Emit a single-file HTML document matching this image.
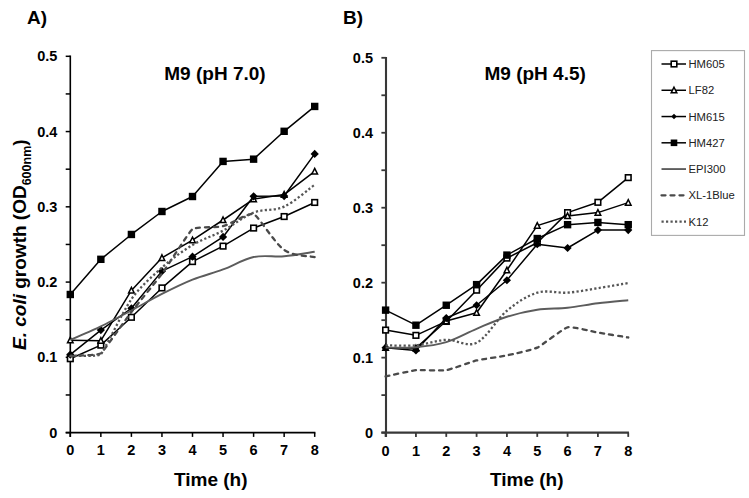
<!DOCTYPE html>
<html><head><meta charset="utf-8"><title>E. coli growth</title>
<style>html,body{margin:0;padding:0;background:#fff;}body{width:749px;height:498px;overflow:hidden;}svg{display:block;}</style>
</head><body>
<svg width="749" height="498" viewBox="0 0 749 498">
<style>
text{font-family:"Liberation Sans",sans-serif;}
.tk{font-size:14.5px;font-weight:bold;fill:#000;}
.ttl{font-size:19px;font-weight:bold;fill:#000;}
.lg{font-size:11.25px;fill:#222;}
</style>
<rect width="749" height="498" fill="#fff"/>
<text x="27" y="24" class="ttl">A)</text>
<text x="343" y="24" class="ttl">B)</text>
<text x="164.3" y="80" class="ttl">M9 (pH 7.0)</text>
<text x="484.5" y="80" class="ttl">M9 (pH 4.5)</text>
<text x="174" y="485.5" class="ttl">Time (h)</text>
<text x="490" y="485.5" class="ttl">Time (h)</text>
<text transform="translate(25.5,350) rotate(-90)" class="ttl"><tspan font-style="italic">E. coli</tspan> growth (OD<tspan font-size="12.5" dy="5.5">600nm</tspan><tspan dy="-5.5">)</tspan></text>
<line x1="70.3" y1="55.60" x2="70.3" y2="436.90" stroke="#000" stroke-width="1.6"/>
<line x1="65.7" y1="432.6" x2="315.40" y2="432.6" stroke="#000" stroke-width="1.6"/>
<line x1="65.7" y1="432.60" x2="70.3" y2="432.60" stroke="#000" stroke-width="1.5"/>
<line x1="65.7" y1="394.97" x2="70.3" y2="394.97" stroke="#000" stroke-width="1.5"/>
<line x1="65.7" y1="357.34" x2="70.3" y2="357.34" stroke="#000" stroke-width="1.5"/>
<line x1="65.7" y1="319.71" x2="70.3" y2="319.71" stroke="#000" stroke-width="1.5"/>
<line x1="65.7" y1="282.08" x2="70.3" y2="282.08" stroke="#000" stroke-width="1.5"/>
<line x1="65.7" y1="244.45" x2="70.3" y2="244.45" stroke="#000" stroke-width="1.5"/>
<line x1="65.7" y1="206.82" x2="70.3" y2="206.82" stroke="#000" stroke-width="1.5"/>
<line x1="65.7" y1="169.19" x2="70.3" y2="169.19" stroke="#000" stroke-width="1.5"/>
<line x1="65.7" y1="131.56" x2="70.3" y2="131.56" stroke="#000" stroke-width="1.5"/>
<line x1="65.7" y1="93.93" x2="70.3" y2="93.93" stroke="#000" stroke-width="1.5"/>
<line x1="65.7" y1="56.30" x2="70.3" y2="56.30" stroke="#000" stroke-width="1.5"/>
<line x1="70.30" y1="432.6" x2="70.30" y2="436.90" stroke="#000" stroke-width="1.5"/>
<line x1="100.85" y1="432.6" x2="100.85" y2="436.90" stroke="#000" stroke-width="1.5"/>
<line x1="131.40" y1="432.6" x2="131.40" y2="436.90" stroke="#000" stroke-width="1.5"/>
<line x1="161.95" y1="432.6" x2="161.95" y2="436.90" stroke="#000" stroke-width="1.5"/>
<line x1="192.50" y1="432.6" x2="192.50" y2="436.90" stroke="#000" stroke-width="1.5"/>
<line x1="223.05" y1="432.6" x2="223.05" y2="436.90" stroke="#000" stroke-width="1.5"/>
<line x1="253.60" y1="432.6" x2="253.60" y2="436.90" stroke="#000" stroke-width="1.5"/>
<line x1="284.15" y1="432.6" x2="284.15" y2="436.90" stroke="#000" stroke-width="1.5"/>
<line x1="314.70" y1="432.6" x2="314.70" y2="436.90" stroke="#000" stroke-width="1.5"/>
<text x="57.3" y="437.60" text-anchor="end" class="tk">0</text>
<text x="57.3" y="362.34" text-anchor="end" class="tk">0.1</text>
<text x="57.3" y="287.08" text-anchor="end" class="tk">0.2</text>
<text x="57.3" y="211.82" text-anchor="end" class="tk">0.3</text>
<text x="57.3" y="136.56" text-anchor="end" class="tk">0.4</text>
<text x="57.3" y="61.30" text-anchor="end" class="tk">0.5</text>
<text x="70.30" y="455" text-anchor="middle" class="tk">0</text>
<text x="100.85" y="455" text-anchor="middle" class="tk">1</text>
<text x="131.40" y="455" text-anchor="middle" class="tk">2</text>
<text x="161.95" y="455" text-anchor="middle" class="tk">3</text>
<text x="192.50" y="455" text-anchor="middle" class="tk">4</text>
<text x="223.05" y="455" text-anchor="middle" class="tk">5</text>
<text x="253.60" y="455" text-anchor="middle" class="tk">6</text>
<text x="284.15" y="455" text-anchor="middle" class="tk">7</text>
<text x="314.70" y="455" text-anchor="middle" class="tk">8</text>
<line x1="386" y1="57.10" x2="386" y2="436.90" stroke="#383838" stroke-width="2.1"/>
<line x1="381.4" y1="432.6" x2="628.94" y2="432.6" stroke="#383838" stroke-width="2.1"/>
<line x1="381.4" y1="432.60" x2="386" y2="432.60" stroke="#383838" stroke-width="1.8"/>
<line x1="381.4" y1="395.12" x2="386" y2="395.12" stroke="#383838" stroke-width="1.8"/>
<line x1="381.4" y1="357.64" x2="386" y2="357.64" stroke="#383838" stroke-width="1.8"/>
<line x1="381.4" y1="320.16" x2="386" y2="320.16" stroke="#383838" stroke-width="1.8"/>
<line x1="381.4" y1="282.68" x2="386" y2="282.68" stroke="#383838" stroke-width="1.8"/>
<line x1="381.4" y1="245.20" x2="386" y2="245.20" stroke="#383838" stroke-width="1.8"/>
<line x1="381.4" y1="207.72" x2="386" y2="207.72" stroke="#383838" stroke-width="1.8"/>
<line x1="381.4" y1="170.24" x2="386" y2="170.24" stroke="#383838" stroke-width="1.8"/>
<line x1="381.4" y1="132.76" x2="386" y2="132.76" stroke="#383838" stroke-width="1.8"/>
<line x1="381.4" y1="95.28" x2="386" y2="95.28" stroke="#383838" stroke-width="1.8"/>
<line x1="381.4" y1="57.80" x2="386" y2="57.80" stroke="#383838" stroke-width="1.8"/>
<line x1="385.60" y1="432.6" x2="385.60" y2="436.90" stroke="#383838" stroke-width="1.8"/>
<line x1="415.93" y1="432.6" x2="415.93" y2="436.90" stroke="#383838" stroke-width="1.8"/>
<line x1="446.26" y1="432.6" x2="446.26" y2="436.90" stroke="#383838" stroke-width="1.8"/>
<line x1="476.59" y1="432.6" x2="476.59" y2="436.90" stroke="#383838" stroke-width="1.8"/>
<line x1="506.92" y1="432.6" x2="506.92" y2="436.90" stroke="#383838" stroke-width="1.8"/>
<line x1="537.25" y1="432.6" x2="537.25" y2="436.90" stroke="#383838" stroke-width="1.8"/>
<line x1="567.58" y1="432.6" x2="567.58" y2="436.90" stroke="#383838" stroke-width="1.8"/>
<line x1="597.91" y1="432.6" x2="597.91" y2="436.90" stroke="#383838" stroke-width="1.8"/>
<line x1="628.24" y1="432.6" x2="628.24" y2="436.90" stroke="#383838" stroke-width="1.8"/>
<text x="373" y="437.60" text-anchor="end" class="tk">0</text>
<text x="373" y="362.64" text-anchor="end" class="tk">0.1</text>
<text x="373" y="287.68" text-anchor="end" class="tk">0.2</text>
<text x="373" y="212.72" text-anchor="end" class="tk">0.3</text>
<text x="373" y="137.76" text-anchor="end" class="tk">0.4</text>
<text x="373" y="62.80" text-anchor="end" class="tk">0.5</text>
<text x="385.60" y="455.5" text-anchor="middle" class="tk">0</text>
<text x="415.93" y="455.5" text-anchor="middle" class="tk">1</text>
<text x="446.26" y="455.5" text-anchor="middle" class="tk">2</text>
<text x="476.59" y="455.5" text-anchor="middle" class="tk">3</text>
<text x="506.92" y="455.5" text-anchor="middle" class="tk">4</text>
<text x="537.25" y="455.5" text-anchor="middle" class="tk">5</text>
<text x="567.58" y="455.5" text-anchor="middle" class="tk">6</text>
<text x="597.91" y="455.5" text-anchor="middle" class="tk">7</text>
<text x="628.24" y="455.5" text-anchor="middle" class="tk">8</text>
<path d="M70.30,358.71 L100.85,345.15 L131.40,317.29 L161.95,287.92 L192.50,261.57 L223.05,246.13 L253.60,228.06 L284.15,216.54 L314.70,202.46" fill="none" stroke="#000" stroke-width="1.5" stroke-linejoin="round"/>
<rect x="67.50" y="355.91" width="5.6" height="5.6" fill="#fff" stroke="#000" stroke-width="1.6"/>
<rect x="98.05" y="342.35" width="5.6" height="5.6" fill="#fff" stroke="#000" stroke-width="1.6"/>
<rect x="128.60" y="314.49" width="5.6" height="5.6" fill="#fff" stroke="#000" stroke-width="1.6"/>
<rect x="159.15" y="285.12" width="5.6" height="5.6" fill="#fff" stroke="#000" stroke-width="1.6"/>
<rect x="189.70" y="258.77" width="5.6" height="5.6" fill="#fff" stroke="#000" stroke-width="1.6"/>
<rect x="220.25" y="243.33" width="5.6" height="5.6" fill="#fff" stroke="#000" stroke-width="1.6"/>
<rect x="250.80" y="225.26" width="5.6" height="5.6" fill="#fff" stroke="#000" stroke-width="1.6"/>
<rect x="281.35" y="213.74" width="5.6" height="5.6" fill="#fff" stroke="#000" stroke-width="1.6"/>
<rect x="311.90" y="199.66" width="5.6" height="5.6" fill="#fff" stroke="#000" stroke-width="1.6"/>
<path d="M70.30,340.26 L100.85,340.63 L131.40,290.41 L161.95,257.80 L192.50,240.11 L223.05,220.00 L253.60,199.07 L284.15,194.55 L314.70,171.43" fill="none" stroke="#000" stroke-width="1.5" stroke-linejoin="round"/>
<path d="M70.30,337.26 L73.10,342.86 L67.50,342.86 Z" fill="#fff" stroke="#000" stroke-width="1.5" stroke-linejoin="miter"/>
<path d="M100.85,337.63 L103.65,343.23 L98.05,343.23 Z" fill="#fff" stroke="#000" stroke-width="1.5" stroke-linejoin="miter"/>
<path d="M131.40,287.41 L134.20,293.01 L128.60,293.01 Z" fill="#fff" stroke="#000" stroke-width="1.5" stroke-linejoin="miter"/>
<path d="M161.95,254.80 L164.75,260.40 L159.15,260.40 Z" fill="#fff" stroke="#000" stroke-width="1.5" stroke-linejoin="miter"/>
<path d="M192.50,237.11 L195.30,242.71 L189.70,242.71 Z" fill="#fff" stroke="#000" stroke-width="1.5" stroke-linejoin="miter"/>
<path d="M223.05,217.00 L225.85,222.60 L220.25,222.60 Z" fill="#fff" stroke="#000" stroke-width="1.5" stroke-linejoin="miter"/>
<path d="M253.60,196.07 L256.40,201.67 L250.80,201.67 Z" fill="#fff" stroke="#000" stroke-width="1.5" stroke-linejoin="miter"/>
<path d="M284.15,191.55 L286.95,197.15 L281.35,197.15 Z" fill="#fff" stroke="#000" stroke-width="1.5" stroke-linejoin="miter"/>
<path d="M314.70,168.43 L317.50,174.03 L311.90,174.03 Z" fill="#fff" stroke="#000" stroke-width="1.5" stroke-linejoin="miter"/>
<path d="M70.30,354.56 L100.85,330.09 L131.40,308.25 L161.95,271.13 L192.50,256.67 L223.05,236.95 L253.60,196.28 L284.15,196.06 L314.70,153.89" fill="none" stroke="#000" stroke-width="1.5" stroke-linejoin="round"/>
<path d="M70.30,350.46 L74.40,354.56 L70.30,358.66 L66.20,354.56 Z" fill="#000"/>
<path d="M100.85,325.99 L104.95,330.09 L100.85,334.19 L96.75,330.09 Z" fill="#000"/>
<path d="M131.40,304.15 L135.50,308.25 L131.40,312.36 L127.30,308.25 Z" fill="#000"/>
<path d="M161.95,267.03 L166.05,271.13 L161.95,275.23 L157.85,271.13 Z" fill="#000"/>
<path d="M192.50,252.57 L196.60,256.67 L192.50,260.77 L188.40,256.67 Z" fill="#000"/>
<path d="M223.05,232.85 L227.15,236.95 L223.05,241.05 L218.95,236.95 Z" fill="#000"/>
<path d="M253.60,192.18 L257.70,196.28 L253.60,200.38 L249.50,196.28 Z" fill="#000"/>
<path d="M284.15,191.96 L288.25,196.06 L284.15,200.16 L280.05,196.06 Z" fill="#000"/>
<path d="M314.70,149.79 L318.80,153.89 L314.70,157.99 L310.60,153.89 Z" fill="#000"/>
<path d="M70.30,294.48 L100.85,259.31 L131.40,234.46 L161.95,211.49 L192.50,196.51 L223.05,161.42 L253.60,159.16 L284.15,131.30 L314.70,106.45" fill="none" stroke="#000" stroke-width="1.5" stroke-linejoin="round"/>
<rect x="66.60" y="290.78" width="7.4" height="7.4" fill="#000"/>
<rect x="97.15" y="255.61" width="7.4" height="7.4" fill="#000"/>
<rect x="127.70" y="230.76" width="7.4" height="7.4" fill="#000"/>
<rect x="158.25" y="207.79" width="7.4" height="7.4" fill="#000"/>
<rect x="188.80" y="192.81" width="7.4" height="7.4" fill="#000"/>
<rect x="219.35" y="157.72" width="7.4" height="7.4" fill="#000"/>
<rect x="249.90" y="155.46" width="7.4" height="7.4" fill="#000"/>
<rect x="280.45" y="127.60" width="7.4" height="7.4" fill="#000"/>
<rect x="311.00" y="102.75" width="7.4" height="7.4" fill="#000"/>
<path d="M70.30,339.88 C75.39,337.62 93.52,329.85 100.85,326.33 C108.18,322.80 121.22,315.91 131.40,310.51 C141.58,305.12 151.77,299.09 161.95,293.95 C172.13,288.80 182.32,283.72 192.50,279.64 C202.68,275.56 212.87,273.24 223.05,269.48 C233.23,265.71 243.42,259.25 253.60,257.05 C263.78,254.85 273.97,257.18 284.15,256.30 C294.33,255.42 309.61,252.53 314.70,251.78" fill="none" stroke="#5c5c5c" stroke-width="1.9"/>
<path d="M70.30,356.07 C75.39,355.63 98.41,355.20 100.85,353.44 C103.29,351.67 124.07,321.60 131.40,312.02 C138.73,302.44 154.62,283.56 161.95,273.62 C169.28,263.68 188.83,232.04 192.50,229.19 C196.17,226.34 215.72,227.99 223.05,226.18 C230.38,224.37 248.71,212.23 253.60,214.13 C258.49,216.03 274.37,243.03 284.15,249.90 C293.93,256.76 309.61,255.86 314.70,257.05" fill="none" stroke="#4a4a4a" stroke-width="2.3" stroke-dasharray="4,5" stroke-linecap="round"/>
<path d="M70.30,355.69 C75.39,355.44 97.79,357.01 100.85,354.19 C103.91,351.36 122.85,311.34 131.40,299.22 C139.95,287.10 151.77,276.63 161.95,267.59 C172.13,258.56 182.32,251.15 192.50,245.00 C202.68,238.85 212.87,236.09 223.05,230.70 C233.23,225.30 243.42,216.64 253.60,212.62 C263.78,208.61 273.97,211.24 284.15,206.60 C294.33,201.96 309.61,188.40 314.70,184.76" fill="none" stroke="#555" stroke-width="2.3" stroke-dasharray="2.2,2.3"/>
<path d="M385.60,330.09 L415.93,335.36 L446.26,321.43 L476.59,290.18 L506.92,258.11 L537.25,242.74 L567.58,212.62 L597.91,202.31 L628.24,177.61" fill="none" stroke="#000" stroke-width="1.5" stroke-linejoin="round"/>
<rect x="382.80" y="327.29" width="5.6" height="5.6" fill="#fff" stroke="#000" stroke-width="1.6"/>
<rect x="413.13" y="332.56" width="5.6" height="5.6" fill="#fff" stroke="#000" stroke-width="1.6"/>
<rect x="443.46" y="318.63" width="5.6" height="5.6" fill="#fff" stroke="#000" stroke-width="1.6"/>
<rect x="473.79" y="287.38" width="5.6" height="5.6" fill="#fff" stroke="#000" stroke-width="1.6"/>
<rect x="504.12" y="255.31" width="5.6" height="5.6" fill="#fff" stroke="#000" stroke-width="1.6"/>
<rect x="534.45" y="239.94" width="5.6" height="5.6" fill="#fff" stroke="#000" stroke-width="1.6"/>
<rect x="564.78" y="209.82" width="5.6" height="5.6" fill="#fff" stroke="#000" stroke-width="1.6"/>
<rect x="595.11" y="199.51" width="5.6" height="5.6" fill="#fff" stroke="#000" stroke-width="1.6"/>
<rect x="625.44" y="174.81" width="5.6" height="5.6" fill="#fff" stroke="#000" stroke-width="1.6"/>
<path d="M385.60,347.71 L415.93,348.16 L446.26,321.06 L476.59,312.77 L506.92,270.23 L537.25,225.65 L567.58,216.01 L597.91,212.62 L628.24,202.61" fill="none" stroke="#000" stroke-width="1.5" stroke-linejoin="round"/>
<path d="M385.60,344.71 L388.40,350.31 L382.80,350.31 Z" fill="#fff" stroke="#000" stroke-width="1.5" stroke-linejoin="miter"/>
<path d="M415.93,345.16 L418.73,350.76 L413.13,350.76 Z" fill="#fff" stroke="#000" stroke-width="1.5" stroke-linejoin="miter"/>
<path d="M446.26,318.06 L449.06,323.66 L443.46,323.66 Z" fill="#fff" stroke="#000" stroke-width="1.5" stroke-linejoin="miter"/>
<path d="M476.59,309.77 L479.39,315.37 L473.79,315.37 Z" fill="#fff" stroke="#000" stroke-width="1.5" stroke-linejoin="miter"/>
<path d="M506.92,267.23 L509.72,272.83 L504.12,272.83 Z" fill="#fff" stroke="#000" stroke-width="1.5" stroke-linejoin="miter"/>
<path d="M537.25,222.65 L540.05,228.25 L534.45,228.25 Z" fill="#fff" stroke="#000" stroke-width="1.5" stroke-linejoin="miter"/>
<path d="M567.58,213.01 L570.38,218.61 L564.78,218.61 Z" fill="#fff" stroke="#000" stroke-width="1.5" stroke-linejoin="miter"/>
<path d="M597.91,209.62 L600.71,215.22 L595.11,215.22 Z" fill="#fff" stroke="#000" stroke-width="1.5" stroke-linejoin="miter"/>
<path d="M628.24,199.61 L631.04,205.21 L625.44,205.21 Z" fill="#fff" stroke="#000" stroke-width="1.5" stroke-linejoin="miter"/>
<path d="M385.60,347.71 L415.93,350.42 L446.26,318.04 L476.59,305.24 L506.92,280.24 L537.25,244.25 L567.58,248.02 L597.91,230.09 L628.24,230.09" fill="none" stroke="#000" stroke-width="1.5" stroke-linejoin="round"/>
<path d="M385.60,343.61 L389.70,347.71 L385.60,351.81 L381.50,347.71 Z" fill="#000"/>
<path d="M415.93,346.32 L420.03,350.42 L415.93,354.52 L411.83,350.42 Z" fill="#000"/>
<path d="M446.26,313.94 L450.36,318.04 L446.26,322.14 L442.16,318.04 Z" fill="#000"/>
<path d="M476.59,301.14 L480.69,305.24 L476.59,309.34 L472.49,305.24 Z" fill="#000"/>
<path d="M506.92,276.14 L511.02,280.24 L506.92,284.34 L502.82,280.24 Z" fill="#000"/>
<path d="M537.25,240.15 L541.35,244.25 L537.25,248.35 L533.15,244.25 Z" fill="#000"/>
<path d="M567.58,243.92 L571.68,248.02 L567.58,252.12 L563.48,248.02 Z" fill="#000"/>
<path d="M597.91,225.99 L602.01,230.09 L597.91,234.19 L593.81,230.09 Z" fill="#000"/>
<path d="M628.24,225.99 L632.34,230.09 L628.24,234.19 L624.14,230.09 Z" fill="#000"/>
<path d="M385.60,310.14 L415.93,325.20 L446.26,305.24 L476.59,284.61 L506.92,255.09 L537.25,238.53 L567.58,224.67 L597.91,222.41 L628.24,224.67" fill="none" stroke="#000" stroke-width="1.5" stroke-linejoin="round"/>
<rect x="381.90" y="306.44" width="7.4" height="7.4" fill="#000"/>
<rect x="412.23" y="321.50" width="7.4" height="7.4" fill="#000"/>
<rect x="442.56" y="301.54" width="7.4" height="7.4" fill="#000"/>
<rect x="472.89" y="280.91" width="7.4" height="7.4" fill="#000"/>
<rect x="503.22" y="251.39" width="7.4" height="7.4" fill="#000"/>
<rect x="533.55" y="234.83" width="7.4" height="7.4" fill="#000"/>
<rect x="563.88" y="220.97" width="7.4" height="7.4" fill="#000"/>
<rect x="594.21" y="218.71" width="7.4" height="7.4" fill="#000"/>
<rect x="624.54" y="220.97" width="7.4" height="7.4" fill="#000"/>
<path d="M385.60,347.64 C390.66,347.56 405.82,348.10 415.93,347.19 C426.04,346.27 436.15,345.20 446.26,342.14 C456.37,339.08 466.48,333.04 476.59,328.81 C486.70,324.58 496.81,319.94 506.92,316.76 C517.03,313.59 527.14,311.27 537.25,309.76 C547.36,308.25 557.47,308.82 567.58,307.73 C577.69,306.64 587.80,304.46 597.91,303.21 C608.02,301.95 623.19,300.70 628.24,300.20" fill="none" stroke="#5c5c5c" stroke-width="1.9"/>
<path d="M385.60,376.48 C387.72,376.04 411.68,370.66 415.93,370.23 C420.18,369.79 442.01,370.91 446.26,370.23 C450.51,369.54 472.34,361.48 476.59,360.44 C480.84,359.40 502.67,356.29 506.92,355.39 C511.17,354.50 533.00,349.60 537.25,347.64 C541.50,345.67 563.33,328.36 567.58,327.31 C571.83,326.25 593.66,331.87 597.91,332.58 C602.16,333.29 626.12,337.13 628.24,337.47" fill="none" stroke="#4a4a4a" stroke-width="2.3" stroke-dasharray="4,5" stroke-linecap="round"/>
<path d="M385.60,345.30 C390.66,345.30 405.82,346.22 415.93,345.30 C426.04,344.39 436.15,340.23 446.26,339.81 C456.37,339.38 466.48,347.59 476.59,342.74 C486.70,337.90 496.81,319.09 506.92,310.74 C517.03,302.39 527.14,295.68 537.25,292.67 C547.36,289.66 557.47,293.42 567.58,292.67 C577.69,291.91 587.80,289.76 597.91,288.15 C608.02,286.54 623.19,283.88 628.24,283.03" fill="none" stroke="#555" stroke-width="2.3" stroke-dasharray="2.2,2.3"/>
<rect x="651.5" y="50.6" width="93" height="184.8" fill="#fff" stroke="#aaa" stroke-width="1.1"/>
<line x1="661.5" y1="64.00" x2="686" y2="64.00" stroke="#000" stroke-width="1.5"/>
<rect x="671.20" y="61.20" width="5.6" height="5.6" fill="#fff" stroke="#000" stroke-width="1.6"/>
<text x="688.5" y="68.00" class="lg">HM605</text>
<line x1="661.5" y1="90.27" x2="686" y2="90.27" stroke="#000" stroke-width="1.5"/>
<path d="M674.00,87.27 L676.80,92.87 L671.20,92.87 Z" fill="#fff" stroke="#000" stroke-width="1.5" stroke-linejoin="miter"/>
<text x="688.5" y="94.27" class="lg">LF82</text>
<line x1="661.5" y1="116.54" x2="686" y2="116.54" stroke="#000" stroke-width="1.5"/>
<path d="M674.00,113.84 L676.70,116.54 L674.00,119.24 L671.30,116.54 Z" fill="#000"/>
<text x="688.5" y="120.54" class="lg">HM615</text>
<line x1="661.5" y1="142.81" x2="686" y2="142.81" stroke="#000" stroke-width="1.5"/>
<rect x="670.70" y="139.51" width="6.6" height="6.6" fill="#000"/>
<text x="688.5" y="146.81" class="lg">HM427</text>
<line x1="661.5" y1="169.08" x2="686" y2="169.08" fill="none" stroke="#5c5c5c" stroke-width="1.9"/>
<text x="688.5" y="173.08" class="lg">EPI300</text>
<line x1="661.5" y1="195.35" x2="686" y2="195.35" fill="none" stroke="#4a4a4a" stroke-width="2.3" stroke-dasharray="4,5" stroke-linecap="round"/>
<text x="688.5" y="199.35" class="lg">XL-1Blue</text>
<line x1="661.5" y1="221.62" x2="686" y2="221.62" fill="none" stroke="#555" stroke-width="2.3" stroke-dasharray="2.2,2.3"/>
<text x="688.5" y="225.62" class="lg">K12</text>
</svg>
</body></html>
